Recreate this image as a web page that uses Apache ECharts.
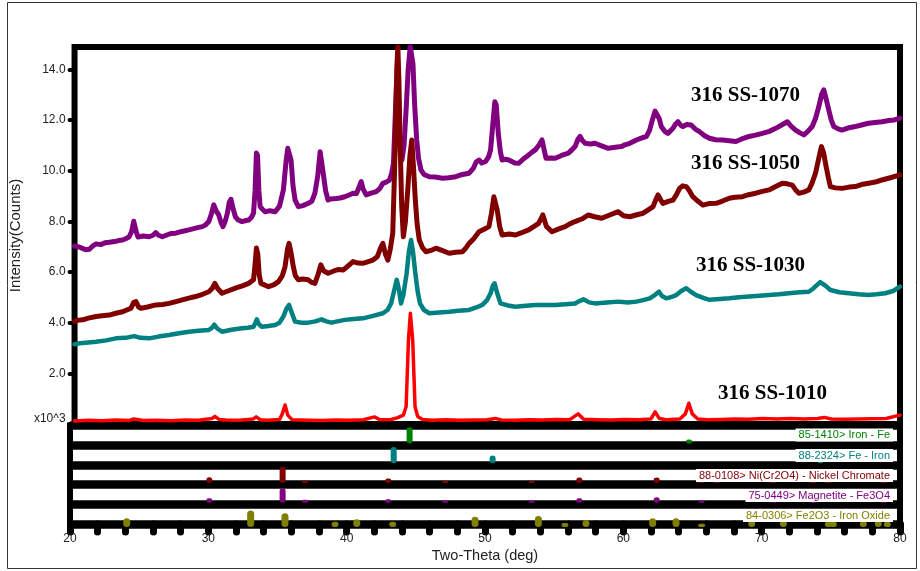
<!DOCTYPE html>
<html>
<head>
<meta charset="utf-8">
<script src="https://cdn.jsdelivr.net/npm/echarts@6/dist/echarts.min.js"></script>
<style>
html,body{margin:0;padding:0;background:#fff;}
#chart{width:920px;height:571px;}
</style>
</head>
<body>
<div id="chart"></div>
<script>
// ---- data ----
const xRange = [20, 80];
const yTicks = [0, 2, 4, 6, 8, 10, 12, 14];
const xLabels = [20, 30, 40, 50, 60, 70, 80];
const sampleNames = ['316 SS-1070', '316 SS-1050', '316 SS-1030', '316 SS-1010'];
const refNames = ['85-1410> Iron - Fe', '88-2324> Fe - Iron', '88-0108> Ni(Cr2O4) - Nickel Chromate', '75-0449> Magnetite - Fe3O4', '84-0306> Fe2O3 - Iron Oxide'];

// intensities in thousands of counts, [two-theta, intensity]
const s1070 = [[20.0,7.02],[20.24,7.0],[20.5,6.95],[20.8,6.88],[21.08,6.9],[21.3,7.02],[21.57,7.11],[21.9,7.08],[22.2,7.15],[22.53,7.17],[22.9,7.2],[23.2,7.24],[23.49,7.26],[23.75,7.32],[23.97,7.39],[24.15,7.6],[24.3,8.0],[24.4,7.95],[24.5,7.55],[24.62,7.38],[25.0,7.42],[25.42,7.39],[25.7,7.45],[25.9,7.55],[26.1,7.45],[26.38,7.39],[26.8,7.48],[27.0,7.52],[27.35,7.53],[27.8,7.6],[28.31,7.66],[28.8,7.73],[29.28,7.79],[29.5,7.85],[29.76,7.99],[29.95,8.3],[30.12,8.65],[30.3,8.4],[30.48,8.25],[30.65,7.95],[30.79,7.79],[30.95,8.0],[31.1,8.3],[31.25,8.75],[31.37,8.87],[31.5,8.55],[31.69,8.18],[31.9,8.05],[32.17,7.99],[32.4,8.02],[32.65,8.05],[32.85,8.15],[33.01,8.32],[33.12,9.2],[33.22,10.7],[33.3,10.6],[33.4,9.2],[33.49,8.58],[33.7,8.45],[33.86,8.38],[34.2,8.42],[34.58,8.38],[34.9,8.6],[35.18,9.24],[35.38,10.4],[35.5,10.88],[35.62,10.85],[35.74,10.4],[35.88,9.4],[36.03,8.84],[36.27,8.58],[36.6,8.62],[36.99,8.71],[37.25,8.8],[37.47,9.11],[37.68,9.8],[37.85,10.75],[37.95,10.7],[38.1,9.8],[38.25,9.2],[38.43,8.84],[38.6,8.88],[39.0,8.9],[39.3,8.92],[39.64,8.97],[40.0,9.05],[40.24,9.11],[40.5,9.1],[40.75,9.45],[40.84,9.57],[40.95,9.3],[41.2,9.04],[41.5,9.1],[41.93,9.17],[42.2,9.3],[42.41,9.5],[42.65,9.55],[42.89,9.63],[43.05,9.9],[43.18,10.29],[43.3,12.0],[43.4,13.4],[43.5,13.2],[43.6,11.5],[43.72,10.5],[43.8,10.42],[43.95,11.0],[44.1,12.4],[44.25,14.0],[44.4,14.9],[44.5,14.9],[44.6,14.2],[44.72,12.6],[44.87,11.21],[45.0,10.5],[45.18,10.03],[45.4,9.85],[45.79,9.76],[46.2,9.75],[46.75,9.7],[47.2,9.72],[47.71,9.76],[48.2,9.85],[48.68,9.9],[49.0,10.1],[49.2,10.35],[49.4,10.42],[49.6,10.3],[49.88,10.36],[50.1,10.55],[50.24,10.82],[50.4,11.8],[50.55,12.72],[50.65,12.6],[50.8,11.47],[50.95,10.75],[51.08,10.42],[51.3,10.45],[51.57,10.42],[52.0,10.3],[52.29,10.29],[52.6,10.45],[53.01,10.62],[53.3,10.75],[53.49,10.82],[53.75,11.0],[53.98,11.21],[54.1,10.9],[54.27,10.49],[54.6,10.5],[54.94,10.49],[55.4,10.6],[55.9,10.69],[56.2,10.85],[56.38,10.95],[56.6,11.25],[56.75,11.35],[56.9,11.2],[57.11,11.08],[57.5,11.05],[57.83,11.08],[58.3,10.98],[58.8,10.88],[59.3,10.92],[59.76,10.95],[60.0,11.02],[60.36,11.08],[60.84,11.21],[61.2,11.28],[61.57,11.35],[61.8,11.6],[62.0,12.0],[62.2,12.35],[62.34,12.4],[62.5,12.05],[62.65,11.74],[62.9,11.55],[63.13,11.47],[63.5,11.67],[63.7,11.85],[63.86,11.93],[64.05,11.8],[64.22,11.74],[64.5,11.82],[64.82,11.8],[65.1,11.65],[65.42,11.54],[65.8,11.38],[66.15,11.28],[66.6,11.22],[67.11,11.21],[67.6,11.18],[68.07,11.15],[68.5,11.25],[69.04,11.35],[69.5,11.4],[70.0,11.47],[70.5,11.55],[70.97,11.67],[71.4,11.8],[71.81,11.93],[72.1,11.75],[72.41,11.6],[72.7,11.5],[73.01,11.41],[73.3,11.55],[73.62,11.74],[73.85,12.05],[74.1,12.53],[74.3,13.0],[74.46,13.19],[74.6,12.9],[74.82,12.4],[75.0,12.0],[75.19,11.74],[75.5,11.65],[75.79,11.6],[76.2,11.68],[76.75,11.74],[77.2,11.8],[77.71,11.87],[78.2,11.9],[78.68,11.93],[79.2,11.98],[79.6,12.0],[80.0,12.07]];

const s1050 = [[20.0,4.05],[20.3,4.1],[20.6,4.11],[21.0,4.18],[21.57,4.24],[22.0,4.27],[22.53,4.3],[23.0,4.37],[23.49,4.43],[23.8,4.5],[24.1,4.57],[24.3,4.8],[24.46,4.83],[24.65,4.62],[24.82,4.57],[25.3,4.62],[25.9,4.7],[26.4,4.72],[26.87,4.76],[27.3,4.82],[27.83,4.9],[28.3,4.97],[28.8,5.03],[29.3,5.12],[29.76,5.22],[30.0,5.35],[30.2,5.55],[30.4,5.35],[30.72,5.16],[31.2,5.26],[31.69,5.36],[32.2,5.45],[32.65,5.55],[33.01,5.69],[33.12,6.3],[33.22,6.95],[33.32,6.7],[33.42,5.9],[33.55,5.55],[34.1,5.42],[34.5,5.5],[34.82,5.62],[35.1,5.85],[35.3,6.21],[35.48,6.9],[35.59,7.13],[35.72,6.8],[35.9,6.21],[36.05,5.85],[36.27,5.69],[36.6,5.72],[36.99,5.69],[37.2,5.6],[37.47,5.55],[37.7,5.9],[37.9,6.28],[38.1,6.05],[38.43,5.95],[38.9,6.05],[39.2,6.1],[39.52,6.08],[39.8,6.2],[40.24,6.41],[40.6,6.35],[40.96,6.34],[41.3,6.4],[41.69,6.47],[42.0,6.6],[42.25,6.95],[42.41,7.13],[42.6,6.7],[42.77,6.47],[42.95,6.9],[43.13,7.53],[43.25,9.8],[43.32,11.21],[43.42,14.0],[43.5,14.9],[43.58,13.5],[43.66,11.21],[43.78,8.6],[43.9,7.39],[44.05,8.0],[44.22,9.24],[44.38,10.6],[44.51,11.21],[44.62,10.3],[44.77,8.84],[44.9,7.9],[45.06,7.26],[45.3,6.95],[45.55,6.8],[45.9,6.85],[46.27,6.94],[46.7,6.85],[47.23,6.74],[47.7,6.78],[48.19,6.8],[48.45,6.95],[48.68,7.13],[49.0,7.3],[49.4,7.59],[49.8,7.7],[50.12,7.79],[50.3,8.3],[50.48,8.97],[50.6,8.9],[50.72,8.45],[50.9,7.8],[51.08,7.46],[51.6,7.5],[52.05,7.46],[52.5,7.55],[53.01,7.66],[53.4,7.8],[53.73,7.92],[53.9,8.1],[54.04,8.25],[54.3,7.8],[54.7,7.59],[55.2,7.7],[55.66,7.79],[56.0,7.9],[56.38,7.99],[56.9,8.1],[57.35,8.25],[57.8,8.18],[58.31,8.12],[58.9,8.25],[59.52,8.38],[59.9,8.22],[60.36,8.18],[60.8,8.25],[61.33,8.32],[61.7,8.45],[62.05,8.58],[62.25,8.85],[62.41,9.04],[62.6,8.85],[62.77,8.71],[63.1,8.78],[63.5,8.84],[63.75,9.05],[63.98,9.3],[64.2,9.4],[64.46,9.37],[64.7,9.2],[64.94,8.97],[65.3,8.8],[65.67,8.64],[66.1,8.7],[66.63,8.71],[67.1,8.8],[67.59,8.91],[68.0,8.95],[68.55,8.97],[69.0,9.05],[69.52,9.11],[70.0,9.18],[70.48,9.24],[71.0,9.38],[71.45,9.5],[71.8,9.48],[72.17,9.43],[72.4,9.25],[72.65,9.11],[73.0,9.15],[73.37,9.24],[73.6,9.5],[73.86,9.9],[74.1,10.5],[74.29,10.95],[74.45,10.7],[74.63,10.16],[74.8,9.7],[74.94,9.37],[75.3,9.32],[75.79,9.3],[76.3,9.35],[76.75,9.37],[77.2,9.45],[77.71,9.5],[78.2,9.55],[78.68,9.63],[79.3,9.72],[80.0,9.83]];

const s1030 = [[20.0,3.15],[20.36,3.19],[21.0,3.22],[21.57,3.25],[22.3,3.3],[23.01,3.38],[23.7,3.4],[24.34,3.47],[24.8,3.4],[25.42,3.38],[26.1,3.45],[26.87,3.51],[27.6,3.58],[28.31,3.64],[29.0,3.68],[29.76,3.71],[30.0,3.8],[30.15,3.92],[30.35,3.78],[30.72,3.64],[31.4,3.72],[32.17,3.78],[32.6,3.8],[33.01,3.84],[33.15,4.0],[33.25,4.13],[33.38,3.95],[33.61,3.84],[34.1,3.87],[34.58,3.91],[34.9,4.0],[35.18,4.24],[35.4,4.55],[35.59,4.7],[35.75,4.45],[36.03,4.04],[36.5,4.0],[36.99,4.0],[37.5,4.05],[37.95,4.13],[38.3,4.05],[38.67,4.0],[39.2,4.06],[39.64,4.11],[40.3,4.14],[40.96,4.17],[41.7,4.27],[42.41,4.37],[42.75,4.5],[43.01,4.76],[43.2,5.2],[43.42,5.69],[43.58,5.3],[43.73,4.76],[43.9,5.1],[44.14,5.95],[44.3,6.8],[44.46,7.26],[44.6,6.8],[44.77,5.95],[44.95,5.2],[45.11,4.76],[45.4,4.5],[45.79,4.37],[46.5,4.4],[47.23,4.43],[47.9,4.47],[48.68,4.5],[49.2,4.6],[49.64,4.7],[50.0,4.9],[50.24,5.16],[50.4,5.45],[50.53,5.55],[50.7,5.2],[50.96,4.76],[51.5,4.68],[52.05,4.63],[52.8,4.67],[53.49,4.7],[54.2,4.7],[54.94,4.7],[55.7,4.73],[56.38,4.76],[56.7,4.85],[56.99,4.92],[57.4,4.8],[57.83,4.76],[58.7,4.8],[59.52,4.83],[60.2,4.8],[60.84,4.83],[61.4,4.9],[61.81,4.96],[62.2,5.1],[62.48,5.22],[62.7,5.05],[63.01,4.96],[63.4,5.02],[63.74,5.09],[64.1,5.25],[64.46,5.36],[64.8,5.22],[65.18,5.09],[65.7,4.98],[66.15,4.9],[66.9,4.93],[67.59,4.96],[68.3,5.0],[69.04,5.03],[69.8,5.06],[70.48,5.09],[71.2,5.12],[71.93,5.16],[72.7,5.2],[73.37,5.22],[73.7,5.35],[73.98,5.49],[74.2,5.6],[74.34,5.62],[74.6,5.45],[74.94,5.29],[75.6,5.2],[76.27,5.16],[77.0,5.12],[77.71,5.09],[78.3,5.12],[78.92,5.16],[79.5,5.25],[80.0,5.42]];

const s1010 = [[20.0,0.12],[21.0,0.15],[22.0,0.13],[23.0,0.16],[24.0,0.14],[24.3,0.2],[25.0,0.14],[26.0,0.15],[27.0,0.13],[28.0,0.16],[29.0,0.15],[30.0,0.22],[30.2,0.3],[30.5,0.18],[31.0,0.16],[32.0,0.15],[33.0,0.2],[33.2,0.28],[33.5,0.17],[34.0,0.15],[34.9,0.18],[35.1,0.4],[35.3,0.75],[35.5,0.35],[35.8,0.17],[37.0,0.15],[38.0,0.14],[39.0,0.16],[40.0,0.15],[41.0,0.17],[41.8,0.28],[42.2,0.17],[43.0,0.18],[43.5,0.25],[43.9,0.35],[44.1,0.68],[44.27,3.31],[44.41,4.37],[44.58,3.31],[44.75,0.68],[44.94,0.3],[45.3,0.18],[46.0,0.15],[47.0,0.17],[48.0,0.15],[49.0,0.16],[50.0,0.17],[50.6,0.22],[51.0,0.16],[52.0,0.15],[53.0,0.17],[54.0,0.16],[55.0,0.18],[56.0,0.17],[56.6,0.4],[57.0,0.19],[58.0,0.17],[59.0,0.16],[60.0,0.18],[61.0,0.17],[61.9,0.2],[62.2,0.48],[62.5,0.22],[63.0,0.17],[64.0,0.2],[64.4,0.4],[64.65,0.82],[64.9,0.4],[65.3,0.2],[66.0,0.17],[67.0,0.18],[68.0,0.2],[69.0,0.19],[70.0,0.22],[71.0,0.2],[72.0,0.22],[73.0,0.2],[74.0,0.22],[74.5,0.26],[75.0,0.2],[76.0,0.19],[77.0,0.2],[78.0,0.21],[79.0,0.22],[79.6,0.3],[80.0,0.35]];

// reference patterns, [two-theta, relative intensity]
const ref85_1410 = [[44.55,100],[64.75,25]];
const ref88_2324 = [[43.4,100],[50.55,48],[74.25,28]];
const ref88_0108 = [[30.07,36],[35.37,100],[36.99,14],[43.01,28],[47.11,10],[53.37,12],[56.82,34],[62.41,34],[65.66,10],[66.75,10],[70.85,10],[73.74,10],[74.82,10],[78.8,10]];
const ref75_0449 = [[30.07,28],[35.37,89],[36.99,18],[43.01,22],[47.11,13],[53.37,13],[56.82,28],[62.41,34],[65.66,13],[70.85,13],[73.74,13],[78.8,13]];
const ref84_0306 = [[24.1,53],[33.06,100],[35.54,84],[39.16,32],[40.73,47],[43.33,32],[49.28,63],[53.86,67],[55.78,24],[57.3,43],[62.12,53],[63.81,53],[65.66,20],[69.28,43],[71.57,43],[74.82,32],[75.18,32],[77.35,37],[78.43,43],[79.08,32]];

// ---- chart ----
const colors = { c1070:'#800080', c1050:'#800000', c1030:'#008080', c1010:'#ff0000', fe:'#008000', feg:'#008080', nicr:'#800000', mag:'#800080', hem:'#808000' };

function lineSeries(name, data, color, width) {
  return { name, type:'line', xAxisIndex:0, yAxisIndex:0, data, showSymbol:false, symbol:'none',
    lineStyle:{ color, width, join:'round', cap:'round' }, clip:true, silent:true };
}
function stickSeries(name, data, row, color, width, base) {
  return { name, type:'custom', xAxisIndex:1, yAxisIndex:1, coordinateSystem:'cartesian2d', clip:false, silent:true,
    data,
    renderItem: function (params, api) {
      const x = api.value(0), h = api.value(1);
      const b = api.coord([x, row + base]);
      const t = api.coord([x, row + base + h / 100 * 0.83]);
      const height = Math.max(b[1] - t[1], 2);
      const r = Math.min(width / 2, height / 2);
      return { type:'rect', shape:{ x: b[0] - width / 2, y: b[1] - height, width, height, r }, style:{ fill: color } };
    }
  };
}

const chart = echarts.init(document.getElementById('chart'), null, { renderer:'canvas' });
const labelFont = '"Liberation Sans", Arial, sans-serif';
const sampleFont = 'bold 21px "Liberation Serif", "Times New Roman", serif';
const refRowsY = [435, 455.5, 475.5, 495.5, 515.5];
const refColors = [colors.fe, colors.feg, colors.nicr, colors.mag, colors.hem];

const option = {
  animation:false,
  backgroundColor:'#fff',
  grid:[
    { left:70, right:20, top:47, height:377, show:true, borderColor:'#000', borderWidth:6, backgroundColor:'transparent' },
    { left:70, right:20, top:425.5, height:98.5, show:true, borderColor:'#000', borderWidth:6, backgroundColor:'transparent' }
  ],
  xAxis:[
    { gridIndex:0, type:'value', min:xRange[0], max:xRange[1], show:false },
    { gridIndex:1, type:'value', min:xRange[0], max:xRange[1], interval:2, position:'bottom',
      axisLine:{ show:false },
      axisTick:{ show:true, length:8, lineStyle:{ color:'#000', width:7, cap:'round' } },
      axisLabel:{ show:true, margin:9, fontSize:12, color:'#222', fontFamily:labelFont,
        formatter: v => (xLabels.indexOf(v) >= 0 ? String(v) : '') },
      splitLine:{ show:false },
      name:'Two-Theta (deg)', nameLocation:'middle', nameGap:24,
      nameTextStyle:{ fontSize:14.5, color:'#222', fontFamily:labelFont } }
  ],
  yAxis:[
    { gridIndex:0, type:'value', min:0, max:14.88, interval:2,
      axisLine:{ show:false },
      axisTick:{ show:true, length:5, customValues:yTicks, lineStyle:{ color:'#000', width:4, cap:'round' } },
      axisLabel:{ show:true, margin:9, fontSize:12, color:'#222', fontFamily:labelFont, customValues:yTicks,
        formatter: v => (v === 0 ? '{u|x10^3}' : v.toFixed(1)),
        rich:{ u:{ fontSize:12, color:'#222', fontFamily:labelFont, padding:[0,0,10,0] } } },
      splitLine:{ show:false },
      name:'Intensity(Counts)', nameLocation:'middle', nameGap:46,
      nameTextStyle:{ fontSize:15, color:'#222', fontFamily:labelFont } },
    { gridIndex:1, type:'value', min:0, max:5, interval:1,
      axisLine:{ show:false }, axisTick:{ show:false }, axisLabel:{ show:false },
      splitLine:{ show:true, showMinLine:true, showMaxLine:true, lineStyle:{ color:'#000', width:8.5 } } }
  ],
  series:[
    lineSeries(sampleNames[0], s1070, colors.c1070, 5),
    lineSeries(sampleNames[1], s1050, colors.c1050, 5),
    lineSeries(sampleNames[2], s1030, colors.c1030, 4.5),
    lineSeries(sampleNames[3], s1010, colors.c1010, 3.5),
    stickSeries(refNames[0], ref85_1410, 4, colors.fe, 6, 0.08),
    stickSeries(refNames[1], ref88_2324, 3, colors.feg, 6, 0.08),
    stickSeries(refNames[2], ref88_0108, 2, colors.nicr, 6, 0.08),
    stickSeries(refNames[3], ref75_0449, 1, colors.mag, 6, 0.08),
    stickSeries(refNames[4], ref84_0306, 0, colors.hem, 7, -0.15)
  ],
  graphic:[
    { type:'rect', z:0, silent:true, shape:{ x:7.5, y:2.5, width:909, height:566 }, style:{ fill:'none', stroke:'#333', lineWidth:1 } },
    { type:'text', z:100, silent:true, style:{ text:sampleNames[0], x:691, y:96, textVerticalAlign:'middle', font:sampleFont, fill:'#000' } },
    { type:'text', z:100, silent:true, style:{ text:sampleNames[1], x:691, y:164, textVerticalAlign:'middle', font:sampleFont, fill:'#000' } },
    { type:'text', z:100, silent:true, style:{ text:sampleNames[2], x:696, y:266, textVerticalAlign:'middle', font:sampleFont, fill:'#000' } },
    { type:'text', z:100, silent:true, style:{ text:sampleNames[3], x:718, y:394, textVerticalAlign:'middle', font:sampleFont, fill:'#000' } }
  ].concat(refNames.map((t, i) => ({
    type:'text', z:100, silent:true,
    style:{ text:t, x:893, y:refRowsY[i], textAlign:'right', textVerticalAlign:'middle',
      font:'11px "Liberation Sans", Arial, sans-serif', fill:refColors[i],
      backgroundColor:'#fff', padding:[1,3,1,3] }
  })))
};
chart.setOption(option);
</script>
</body>
</html>
